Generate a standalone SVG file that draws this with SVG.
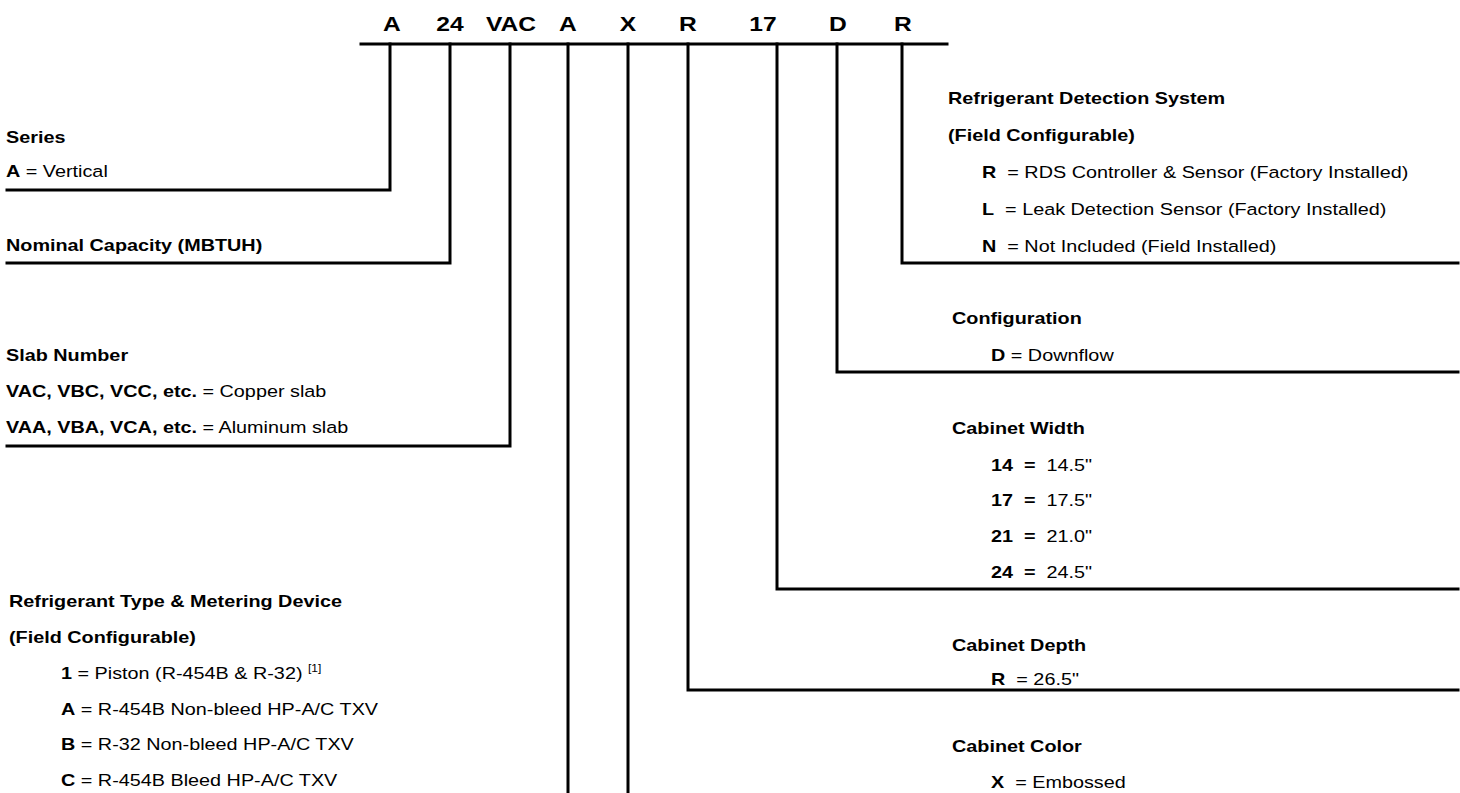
<svg xmlns="http://www.w3.org/2000/svg" width="1460" height="793" viewBox="0 0 1460 793">
<style>
text{font-family:"Liberation Sans",Arial,sans-serif;font-size:16.5px;fill:#000;white-space:pre}
.b{font-weight:bold}
.hdr{font-weight:bold;font-size:20.5px;text-anchor:middle}
.sup{font-size:10px}
.ln{stroke:#000;stroke-width:3;fill:none;stroke-linecap:square}
</style>
<rect width="1460" height="793" fill="#fff"/>
<g id="header">
<text class="hdr" transform="translate(392 31) scale(1.2 1)">A</text>
<text class="hdr" transform="translate(450 31) scale(1.2 1)">24</text>
<text class="hdr" transform="translate(511 31) scale(1.2 1)">VAC</text>
<text class="hdr" transform="translate(568 31) scale(1.2 1)">A</text>
<text class="hdr" transform="translate(628 31) scale(1.2 1)">X</text>
<text class="hdr" transform="translate(688 31) scale(1.2 1)">R</text>
<text class="hdr" transform="translate(763 31) scale(1.2 1)">17</text>
<text class="hdr" transform="translate(838 31) scale(1.2 1)">D</text>
<text class="hdr" transform="translate(903 31) scale(1.2 1)">R</text>
</g>
<g id="connectors" class="ln">
<path d="M361 44H947"/>
<path d="M390 44V190H7"/>
<path d="M450 44V263H7"/>
<path d="M510 44V446H7"/>
<path d="M568 44V793"/>
<path d="M628 44V793"/>
<path d="M688 44V690H1458"/>
<path d="M777 44V589H1458"/>
<path d="M837 44V372H1458"/>
<path d="M902 44V263H1458"/>
</g>
<g id="series">
<text class="b" transform="translate(6 143) scale(1.2 1)">Series</text>
<text transform="translate(6 177) scale(1.2 1)"><tspan class="b">A</tspan> = Vertical</text>
</g>
<g id="capacity">
<text class="b" transform="translate(6 251) scale(1.2 1)">Nominal Capacity (MBTUH)</text>
</g>
<g id="slab">
<text class="b" transform="translate(6 361) scale(1.2 1)">Slab Number</text>
<text transform="translate(6 397) scale(1.2 1)"><tspan class="b">VAC, VBC, VCC, etc.</tspan> = Copper slab</text>
<text transform="translate(6 433) scale(1.2 1)"><tspan class="b">VAA, VBA, VCA, etc.</tspan> = Aluminum slab</text>
</g>
<g id="refrigerant">
<text class="b" transform="translate(9 607) scale(1.2 1)">Refrigerant Type &amp; Metering Device</text>
<text class="b" transform="translate(9 643) scale(1.2 1)">(Field Configurable)</text>
<text transform="translate(61 679) scale(1.2 1)"><tspan class="b">1</tspan> = Piston (R-454B &amp; R-32) <tspan class="sup" dy="-7">[1]</tspan></text>
<text transform="translate(61 715) scale(1.2 1)"><tspan class="b">A</tspan> = R-454B Non-bleed HP-A/C TXV</text>
<text transform="translate(61 750) scale(1.2 1)"><tspan class="b">B</tspan> = R-32 Non-bleed HP-A/C TXV</text>
<text transform="translate(61 786) scale(1.2 1)"><tspan class="b">C</tspan> = R-454B Bleed HP-A/C TXV</text>
</g>
<g id="rds">
<text class="b" transform="translate(948 104) scale(1.2 1)">Refrigerant Detection System</text>
<text class="b" transform="translate(948 141) scale(1.2 1)">(Field Configurable)</text>
<text transform="translate(982 178) scale(1.2 1)"><tspan class="b">R</tspan>  = RDS Controller &amp; Sensor (Factory Installed)</text>
<text transform="translate(982 215) scale(1.2 1)"><tspan class="b">L</tspan>  = Leak Detection Sensor (Factory Installed)</text>
<text transform="translate(982 252) scale(1.2 1)"><tspan class="b">N</tspan>  = Not Included (Field Installed)</text>
</g>
<g id="configuration">
<text class="b" transform="translate(952 324) scale(1.2 1)">Configuration</text>
<text transform="translate(991 361) scale(1.2 1)"><tspan class="b">D</tspan> = Downflow</text>
</g>
<g id="width">
<text class="b" transform="translate(952 434) scale(1.2 1)">Cabinet Width</text>
<text transform="translate(991 471) scale(1.2 1)"><tspan class="b">14  =</tspan>  14.5"</text>
<text transform="translate(991 506) scale(1.2 1)"><tspan class="b">17  =</tspan>  17.5"</text>
<text transform="translate(991 542) scale(1.2 1)"><tspan class="b">21  =</tspan>  21.0"</text>
<text transform="translate(991 578) scale(1.2 1)"><tspan class="b">24  =</tspan>  24.5"</text>
</g>
<g id="depth">
<text class="b" transform="translate(952 651) scale(1.2 1)">Cabinet Depth</text>
<text transform="translate(991 685) scale(1.2 1)"><tspan class="b">R</tspan>  = 26.5"</text>
</g>
<g id="color">
<text class="b" transform="translate(952 752) scale(1.2 1)">Cabinet Color</text>
<text transform="translate(991 788) scale(1.2 1)"><tspan class="b">X</tspan>  = Embossed</text>
</g>
</svg>
